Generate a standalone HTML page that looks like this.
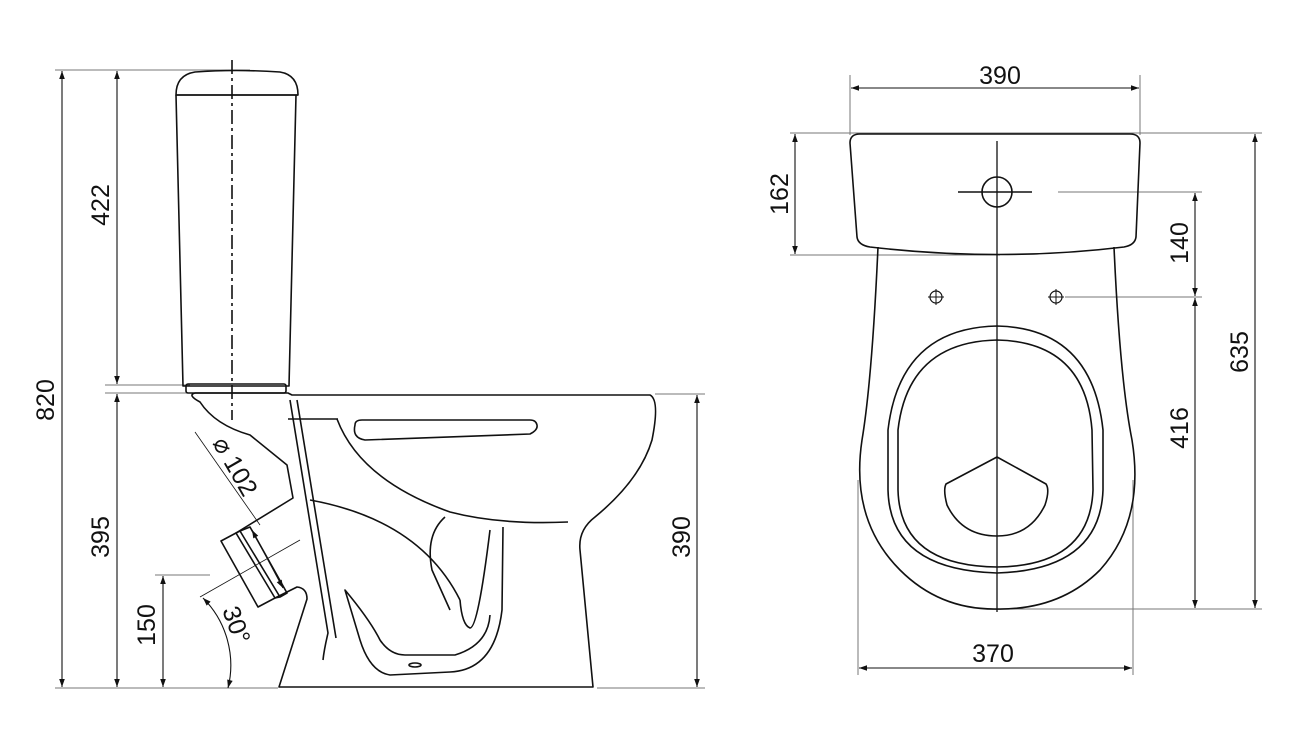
<!DOCTYPE html>
<html><head><meta charset="utf-8"><style>
html,body{margin:0;padding:0;background:#fff;}
svg{display:block}
text{font-family:"Liberation Sans",sans-serif;font-size:25px;fill:#111}
</style></head><body>
<svg width="1303" height="735" viewBox="0 0 1303 735" xmlns="http://www.w3.org/2000/svg">
<defs>
<marker id="a" viewBox="0 0 10 10" refX="10" refY="5" markerWidth="12" markerHeight="8" orient="auto-start-reverse" markerUnits="userSpaceOnUse"><path d="M0,1.5 L10,5 L0,8.5 Z" fill="#111"/></marker>
</defs>
<g stroke="#777" stroke-width="1" fill="none">
<line x1="55" y1="70" x2="250" y2="70"/>
<line x1="105" y1="385" x2="190" y2="385"/>
<line x1="105" y1="393" x2="190" y2="393"/>
<line x1="55" y1="688" x2="278" y2="688"/>
<line x1="155" y1="575" x2="210" y2="575"/>
<line x1="597" y1="688" x2="705" y2="688"/>
<line x1="655" y1="394" x2="705" y2="394"/>
<line x1="850" y1="75" x2="850" y2="135"/>
<line x1="1140" y1="75" x2="1140" y2="135"/>
<line x1="790" y1="133" x2="1262" y2="133"/>
<line x1="790" y1="255" x2="1000" y2="255"/>
<line x1="1058" y1="192" x2="1202" y2="192"/>
<line x1="1065" y1="297" x2="1202" y2="297"/>
<line x1="1000" y1="609" x2="1262" y2="609"/>
<line x1="858" y1="480" x2="858" y2="675"/>
<line x1="1133" y1="480" x2="1133" y2="675"/>
</g>
<g stroke="#111" stroke-width="1.1" fill="none">
<line x1="62" y1="71" x2="62" y2="687" marker-start="url(#a)" marker-end="url(#a)"/>
<line x1="117" y1="71" x2="117" y2="384" marker-start="url(#a)" marker-end="url(#a)"/>
<line x1="117" y1="394" x2="117" y2="687" marker-start="url(#a)" marker-end="url(#a)"/>
<line x1="163" y1="576" x2="163" y2="687" marker-start="url(#a)" marker-end="url(#a)"/>
<line x1="697" y1="395" x2="697" y2="687" marker-start="url(#a)" marker-end="url(#a)"/>
<line x1="851" y1="88" x2="1139" y2="88" marker-start="url(#a)" marker-end="url(#a)"/>
<line x1="795" y1="134" x2="795" y2="254" marker-start="url(#a)" marker-end="url(#a)"/>
<line x1="1195" y1="193" x2="1195" y2="296" marker-start="url(#a)" marker-end="url(#a)"/>
<line x1="1195" y1="298" x2="1195" y2="608" marker-start="url(#a)" marker-end="url(#a)"/>
<line x1="1255" y1="134" x2="1255" y2="608" marker-start="url(#a)" marker-end="url(#a)"/>
<line x1="859" y1="668" x2="1132" y2="668" marker-start="url(#a)" marker-end="url(#a)"/>
<line x1="195" y1="432" x2="260" y2="525" stroke-width="0.8"/>
<line x1="252" y1="530" x2="283" y2="588" marker-start="url(#a)" marker-end="url(#a)"/>
<line x1="200" y1="597" x2="300" y2="540" stroke-width="0.8"/>
<path d="M203,598 A95,95 0 0 1 228,688" marker-start="url(#a)" marker-end="url(#a)"/>
</g>
<g stroke="#111" stroke-width="1.6" fill="none" stroke-linejoin="round">
<path d="M176,95 Q176,75 195,72 Q235,69 280,72 Q298,75 298,95 Z"/>
<path d="M176,95 L183,386 L289,386 L296,95"/>
<rect x="186" y="384" width="100" height="9" rx="2"/>
<path d="M195,393 L288,393 L292,395 L650,395 Q660,400 652,440 Q640,480 595,517 Q578,530 580,550 L593,687 L279,687 L307,599 Q307,588 297,587 L275,598"/>
<path d="M195,393 Q187,395 200,402 Q215,425 250,435 L287,465 L293,498 L236,533"/>
<path d="M288,419 L338,419"/>
<path d="M297,400 L336,638"/>
<path d="M290,400 L328,633 Q324,650 323,660"/>
<path d="M337,419 Q360,480 450,512 Q500,525 568,522"/>
<path d="M355,425 Q352,438 365,440 L530,434 Q538,430 537,425 Q536,420 530,420 L362,420 Q355,420 355,425 Z"/>
<path d="M310,500 Q420,520 460,600"/>
<path d="M460,600 Q462,625 470,628 Q478,628 490,530"/>
<path d="M445,517 Q425,535 432,570 L450,610"/>
<path d="M503,527 L502,610 Q495,670 450,672 L390,675 Q370,672 360,640 L345,590 Q370,620 380,640 Q390,655 405,655 L455,655 Q488,645 490,615"/>
<ellipse cx="415" cy="665" rx="6" ry="2"/>
<path d="M221,541 L236,533 L275,598 L258,607 Z"/>
<path d="M236,533 L240,531 L280,597 L275,598"/>
<path d="M240,531 L250,527 L287,593 L280,597"/>
<path d="M997,141" />
<path d="M850,143 Q850,134 860,134 L1130,134 Q1140,134 1140,143 L1136,237 Q1135,245 1124,247 Q1000,262 870,247 Q858,245 857,237 Z"/>
<path d="M878,247 Q872,380 862,440 Q850,520 900,570 Q940,610 997,609 Q1060,610 1100,570 Q1145,520 1132,440 Q1120,380 1114,247"/>
<path d="M997,326 Q1092,328 1103,430 L1103,490 Q1100,570 997,573 Q890,570 888,490 L888,430 Q900,328 997,326 Z"/>
<path d="M997,340 Q1085,342 1092,430 L1093,490 Q1090,566 997,567 Q900,566 898,490 L898,430 Q908,342 997,340 Z"/>
<path d="M997,457 L1046,484 Q1050,490 1045,505 Q1030,536 997,536 Q962,536 947,505 Q943,490 946,484 Z"/>
<circle cx="997" cy="192" r="15"/>
<circle cx="936" cy="297" r="6" stroke-width="1.2"/>
<circle cx="1056" cy="297" r="6" stroke-width="1.2"/>
</g>
<g stroke="#111" stroke-width="1" fill="none">
<line x1="958" y1="192" x2="1032" y2="192" stroke-width="1.5"/>
<line x1="997" y1="141" x2="997" y2="612" stroke-width="1.3"/>
<line x1="928" y1="297" x2="944" y2="297"/><line x1="936" y1="289" x2="936" y2="305"/>
<line x1="1048" y1="297" x2="1064" y2="297"/><line x1="1056" y1="289" x2="1056" y2="305"/>
<line x1="232" y1="60" x2="232" y2="420" stroke-width="1.6" stroke-dasharray="14,4,3,4"/>
<line x1="176" y1="95" x2="298" y2="95" stroke-width="1.5"/>
</g>
<text transform="translate(54,400) rotate(-90)" text-anchor="middle">820</text>
<text transform="translate(109,205) rotate(-90)" text-anchor="middle">422</text>
<text transform="translate(109,537) rotate(-90)" text-anchor="middle">395</text>
<text transform="translate(155,625) rotate(-90)" text-anchor="middle">150</text>
<text transform="translate(690,537) rotate(-90)" text-anchor="middle">390</text>
<text transform="translate(212,443) rotate(60)">⌀ 102</text>
<text transform="translate(222,610) rotate(70)">30°</text>
<text x="1000" y="84" text-anchor="middle">390</text>
<text transform="translate(788,194) rotate(-90)" text-anchor="middle">162</text>
<text transform="translate(1188,243) rotate(-90)" text-anchor="middle">140</text>
<text transform="translate(1188,428) rotate(-90)" text-anchor="middle">416</text>
<text transform="translate(1248,352) rotate(-90)" text-anchor="middle">635</text>
<text x="993" y="662" text-anchor="middle">370</text>
</svg>
</body></html>
